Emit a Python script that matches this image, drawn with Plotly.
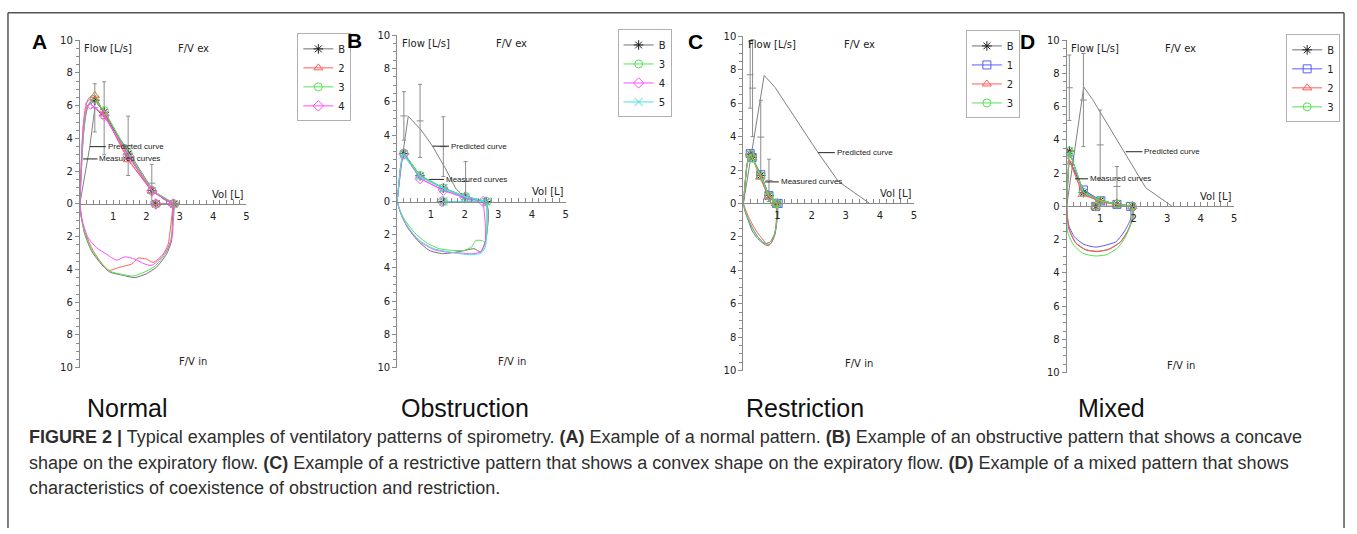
import plotly.graph_objects as go

W, H = 1357, 534

# ----------------------------- DATA -----------------------------
# Each series: key expiratory points (PEF, MEF75, MEF50, MEF25, FVC), FEV1 volume,
# rising limb (0 -> PEF) and inspiratory limb (FVC -> 0, flow magnitude).

# Panel A - Normal
A_names = ['B', '2', '3', '4']
A_key_vol = [[0.45, 0.73, 1.45, 2.16, 2.82], [0.45, 0.73, 1.45, 2.16, 2.80],
             [0.43, 0.73, 1.45, 2.16, 2.85], [0.32, 0.73, 1.45, 2.16, 2.80]]
A_key_flow = [[6.34, 5.60, 3.05, 0.82, 0.0], [6.62, 5.50, 2.70, 0.78, 0.0],
              [6.40, 5.70, 3.10, 0.84, 0.0], [6.10, 5.40, 2.95, 0.78, 0.0]]
A_fev1 = [2.28, 2.28, 2.30, 2.28]
A_rise_vol = [[0, 0.05, 0.10, 0.17, 0.25, 0.35], [0, 0.04, 0.09, 0.16, 0.25, 0.35],
              [0, 0.05, 0.10, 0.17, 0.26, 0.35], [0, 0.04, 0.09, 0.15, 0.22]]
A_rise_flow = [[0, 2.2, 4.0, 5.3, 6.0, 6.25], [0, 2.4, 4.5, 5.8, 6.4, 6.6],
               [0, 2.2, 4.1, 5.4, 6.1, 6.35], [0, 2.3, 4.3, 5.5, 6.0]]
A_insp_vol = [[2.82, 2.78, 2.75, 2.60, 2.30, 2.00, 1.65, 1.30, 0.90, 0.60, 0.35, 0.15, 0.05, 0],
              [2.80, 2.72, 2.65, 2.50, 2.20, 2.00, 1.75, 1.55, 1.20, 0.85, 0.60, 0.35, 0.15, 0.03, 0],
              [2.85, 2.80, 2.72, 2.55, 2.25, 1.95, 1.60, 1.25, 0.90, 0.60, 0.35, 0.15, 0.05, 0],
              [2.80, 2.78, 2.65, 2.40, 2.15, 1.90, 1.65, 1.35, 1.10, 0.80, 0.50, 0.25, 0.08, 0]]
A_insp_flow = [[0, 1.0, 2.27, 3.07, 3.86, 4.26, 4.50, 4.36, 4.16, 3.57, 2.87, 1.87, 0.88, 0],
               [0, 1.47, 2.47, 3.07, 3.57, 3.37, 3.31, 3.67, 3.86, 4.06, 3.47, 2.67, 1.67, 0.68, 0],
               [0, 1.1, 2.3, 3.1, 3.8, 4.15, 4.4, 4.3, 4.1, 3.5, 2.8, 1.8, 0.85, 0],
               [0, 1.9, 2.67, 3.37, 3.76, 3.63, 3.37, 3.23, 3.43, 3.07, 2.67, 2.07, 1.08, 0]]
A_pred_vol = [0, 0.15, 0.30, 0.45, 0.73, 1.10, 1.45, 1.80, 2.16, 2.50, 2.80]
A_pred_flow = [0, 1.7, 3.5, 5.86, 5.35, 4.3, 3.25, 2.1, 0.95, 0.3, 0]
A_err_vol = [0.45, 0.73, 1.45, 2.16]
A_err_mid = [5.87, 5.23, 3.55, 1.27]
A_err_half = [1.47, 2.23, 1.81, 1.15]

# Panel B - Obstruction
B_names = ['B', '3', '4', '5']
B_key_vol = [[0.20, 0.68, 1.37, 2.01, 2.64], [0.20, 0.68, 1.37, 2.03, 2.66],
             [0.20, 0.68, 1.37, 2.01, 2.55], [0.18, 0.68, 1.37, 2.03, 2.66]]
B_key_flow = [[2.88, 1.55, 0.80, 0.29, 0.0], [2.92, 1.57, 0.82, 0.30, 0.0],
              [2.85, 1.38, 0.68, 0.22, 0.0], [2.82, 1.50, 0.78, 0.28, 0.0]]
B_fev1 = [1.37, 1.38, 1.33, 1.38]
B_rise_vol = [[0, 0.05, 0.10, 0.15], [0, 0.05, 0.10, 0.15], [0, 0.05, 0.10, 0.15], [0, 0.05, 0.10, 0.14]]
B_rise_flow = [[0, 1.0, 2.0, 2.6], [0, 1.1, 2.1, 2.65], [0, 1.0, 2.0, 2.6], [0, 1.05, 2.05, 2.6]]
B_insp_vol = [[2.64, 2.70, 2.70, 2.62, 2.48, 2.28, 2.03, 1.64, 1.35, 0.95, 0.61, 0.31, 0.12, 0],
              [2.66, 2.66, 2.60, 2.52, 2.33, 2.20, 1.98, 1.64, 1.25, 0.85, 0.51, 0.22, 0.07, 0],
              [2.55, 2.62, 2.60, 2.45, 2.20, 1.90, 1.50, 1.10, 0.70, 0.40, 0.15, 0],
              [2.66, 2.66, 2.62, 2.50, 2.20, 1.90, 1.50, 1.10, 0.70, 0.40, 0.15, 0]]
B_insp_flow = [[0, 0.5, 1.18, 2.35, 3.04, 2.84, 2.94, 3.08, 3.14, 2.94, 2.35, 1.57, 0.78, 0],
               [0, 1.96, 2.45, 2.35, 2.35, 2.75, 2.94, 2.94, 2.84, 2.45, 1.86, 1.08, 0.49, 0],
               [0, 1.5, 2.6, 3.05, 3.15, 3.1, 3.05, 2.9, 2.45, 1.8, 0.95, 0],
               [0, 1.9, 2.7, 3.1, 3.2, 3.15, 3.02, 2.85, 2.4, 1.75, 0.9, 0]]
B_pred_vol = [0, 0.15, 0.33, 0.71, 1.05, 1.44, 1.74, 2.03, 2.30]
B_pred_flow = [0, 2.6, 5.13, 4.31, 3.33, 1.96, 0.78, 0.19, 0]
B_err_vol = [0.20, 0.68, 1.37, 2.03]
B_err_mid = [5.15, 4.85, 3.30, 1.20]
B_err_half = [1.46, 2.20, 1.80, 1.20]

# Panel C - Restriction
C_names = ['B', '1', '2', '3']
C_key_vol = [[0.20, 0.26, 0.51, 0.75, 1.00], [0.20, 0.26, 0.51, 0.75, 1.02],
             [0.20, 0.26, 0.49, 0.73, 0.97], [0.20, 0.26, 0.51, 0.75, 1.00]]
C_key_flow = [[2.95, 2.75, 1.68, 0.47, 0.0], [2.98, 2.75, 1.72, 0.47, 0.0],
              [2.95, 2.75, 1.58, 0.41, 0.0], [2.93, 2.72, 1.66, 0.45, 0.0]]
C_fev1 = [0.95, 0.97, 0.95, 0.95]
C_rise_vol = [[0, 0.05, 0.10, 0.15], [0, 0.05, 0.10, 0.15], [0, 0.05, 0.10, 0.15], [0, 0.05, 0.10, 0.15]]
C_rise_flow = [[0, 1.2, 2.2, 2.75], [0, 1.2, 2.25, 2.8], [0, 1.15, 2.15, 2.75], [0, 1.2, 2.2, 2.7]]
C_insp_vol = [[1.00, 0.97, 0.93, 0.81, 0.68, 0.54, 0.39, 0.26, 0.15, 0.05, 0],
              [1.02, 0.99, 0.92, 0.79, 0.66, 0.54, 0.39, 0.25, 0.13, 0.03, 0],
              [0.97, 0.97, 0.93, 0.83, 0.73, 0.59, 0.44, 0.29, 0.15, 0.05, 0],
              [1.00, 0.98, 0.91, 0.78, 0.65, 0.54, 0.39, 0.25, 0.13, 0.03, 0]]
C_insp_flow = [[0, 1.05, 1.83, 2.38, 2.51, 2.32, 2.03, 1.64, 1.05, 0.47, 0],
               [0, 1.0, 1.8, 2.3, 2.4, 2.25, 1.9, 1.4, 0.88, 0.3, 0],
               [0, 1.0, 1.73, 2.33, 2.53, 2.2, 1.83, 1.34, 0.8, 0.3, 0],
               [0, 1.05, 1.83, 2.32, 2.38, 2.26, 1.9, 1.4, 0.88, 0.3, 0]]
C_pred_vol = [0, 0.61, 0.93, 2.19, 2.78, 3.70]
C_pred_flow = [0, 7.66, 6.94, 3.04, 1.33, 0]
C_err_vol = [0.20, 0.27, 0.51, 0.75]
C_err_mid = [7.70, 6.90, 3.97, 1.38]
C_err_half = [2.00, 2.90, 2.20, 1.27]

# Panel D - Mixed
D_names = ['B', '1', '2', '3']
D_key_vol = [[0.08, 0.50, 1.00, 1.50, 1.96], [0.08, 0.50, 1.02, 1.50, 1.91],
             [0.08, 0.48, 1.00, 1.50, 1.96], [0.08, 0.50, 1.00, 1.50, 1.96]]
D_key_flow = [[3.33, 0.83, 0.34, 0.14, 0.0], [2.80, 0.99, 0.34, 0.12, 0.0],
              [2.80, 0.73, 0.30, 0.10, 0.0], [3.33, 0.85, 0.35, 0.14, 0.0]]
D_fev1 = [0.87, 0.87, 0.85, 0.87]
D_rise_vol = [[0, 0.03, 0.06], [0, 0.03, 0.06], [0, 0.03, 0.06], [0, 0.03, 0.06]]
D_rise_flow = [[0, 1.5, 2.7], [0, 1.3, 2.4], [0, 1.3, 2.4], [0, 1.5, 2.7]]
D_insp_vol = [[1.96, 1.99, 1.86, 1.61, 1.27, 0.92, 0.57, 0.28, 0.08, 0.01, 0],
              [1.91, 1.91, 1.71, 1.47, 1.17, 0.87, 0.52, 0.23, 0.05, 0],
              [1.96, 1.97, 1.84, 1.60, 1.27, 0.92, 0.57, 0.28, 0.08, 0],
              [1.96, 1.93, 1.76, 1.51, 1.17, 0.82, 0.48, 0.21, 0.03, 0]]
D_insp_flow = [[0, 0.55, 1.34, 2.13, 2.56, 2.72, 2.62, 2.23, 1.44, 0.55, 0],
               [0, 0.75, 1.54, 2.13, 2.33, 2.45, 2.29, 1.83, 1.05, 0],
               [0, 0.6, 1.4, 2.15, 2.58, 2.7, 2.6, 2.2, 1.4, 0],
               [0, 0.95, 1.83, 2.52, 2.92, 2.98, 2.82, 2.33, 1.54, 0]]
D_pred_vol = [0, 0.51, 0.77, 2.36, 3.15]
D_pred_flow = [0, 7.18, 6.45, 1.12, 0]
D_err_vol = [0.08, 0.50, 1.00, 1.50]
D_err_mid = [7.14, 6.40, 3.70, 1.20]
D_err_half = [1.97, 2.80, 2.10, 1.20]

# Axis ticks
flow_tickvals = [-10, -8, -6, -4, -2, 0, 2, 4, 6, 8, 10]
flow_ticktext = ['10', '8', '6', '4', '2', '0', '2', '4', '6', '8', '10']
vol_tickvals = [1, 2, 3, 4, 5]

panel_letters = ['A', 'B', 'C', 'D']
panel_titles = ['Normal', 'Obstruction', 'Restriction', 'Mixed']

caption_lines = [
    "<b>FIGURE 2 |</b> Typical examples of ventilatory patterns of spirometry. <b>(A)</b> Example of a normal pattern. "
    "<b>(B)</b> Example of an obstructive pattern that shows a concave",
    "shape on the expiratory flow. <b>(C)</b> Example of a restrictive pattern that shows a convex shape on the "
    "expiratory flow. <b>(D)</b> Example of a mixed pattern that shows",
    "characteristics of coexistence of obstruction and restriction.",
]

# ----------------------------- STYLE / LAYOUT -----------------------------
STYLE = {
    'B': dict(line='#707070', marker='#1e1e1e', symbol='asterisk-open'),
    '1': dict(line='#5b5bff', marker='#5b5bff', symbol='square-open'),
    '2': dict(line='#ff5b5b', marker='#ff5b5b', symbol='triangle-up-open'),
    '3': dict(line='#55e055', marker='#55e055', symbol='circle-open'),
    '4': dict(line='#ff4dff', marker='#ff4dff', symbol='diamond-open'),
    '5': dict(line='#48e0e0', marker='#48e0e0', symbol='x-thin-open'),
}

GEOM = [
    dict(x0=80, x5=247, yt=35, yb=370, leg=(298, 28), letter=(40, 36), title=128,
         pred_lead=(0.30, 3.5, 0.78), meas_lead=(0.10, 2.75, 0.53)),
    dict(x0=398, x5=567, yt=30, yb=370, leg=(619, 24), letter=(355, 35), title=466,
         pred_lead=(1.05, 3.33, 1.54), meas_lead=(0.95, 1.33, 1.39)),
    dict(x0=745, x5=916, yt=31, yb=373, leg=(968, 25), letter=(697, 36), title=807,
         pred_lead=(2.19, 3.04, 2.68), meas_lead=(0.63, 1.29, 1.04)),
    dict(x0=1069, x5=1237, yt=35, yb=375, leg=(1289, 29), letter=(1030, 36), title=1114,
         pred_lead=(1.76, 3.29, 2.26), meas_lead=(0.25, 1.66, 0.64)),
]

PANEL_DATA = [
    (A_names, A_key_vol, A_key_flow, A_fev1, A_rise_vol, A_rise_flow, A_insp_vol, A_insp_flow,
     A_pred_vol, A_pred_flow, A_err_vol, A_err_mid, A_err_half),
    (B_names, B_key_vol, B_key_flow, B_fev1, B_rise_vol, B_rise_flow, B_insp_vol, B_insp_flow,
     B_pred_vol, B_pred_flow, B_err_vol, B_err_mid, B_err_half),
    (C_names, C_key_vol, C_key_flow, C_fev1, C_rise_vol, C_rise_flow, C_insp_vol, C_insp_flow,
     C_pred_vol, C_pred_flow, C_err_vol, C_err_mid, C_err_half),
    (D_names, D_key_vol, D_key_flow, D_fev1, D_rise_vol, D_rise_flow, D_insp_vol, D_insp_flow,
     D_pred_vol, D_pred_flow, D_err_vol, D_err_mid, D_err_half),
]

AX_FONT = dict(family='DejaVu Sans', size=10, color='#222222')
SMALL_FONT = dict(family='Liberation Sans, Arial', size=8, color='#222222')
AXIS_COLOR = '#8a8a8a'

fig = go.Figure()
layout = dict(width=W, height=H, margin=dict(l=0, r=0, t=0, b=0),
              paper_bgcolor='white', plot_bgcolor='rgba(0,0,0,0)', showlegend=True)
annotations = []
shapes = []

for i, (g, pdata) in enumerate(zip(GEOM, PANEL_DATA)):
    (names, key_vol, key_flow, fev1, rise_vol, rise_flow, insp_vol, insp_flow,
     pred_vol, pred_flow, err_vol, err_mid, err_half) = pdata
    n = i + 1
    xa = 'x' if n == 1 else f'x{n}'
    ya = 'y' if n == 1 else f'y{n}'
    xk = 'xaxis' if n == 1 else f'xaxis{n}'
    yk = 'yaxis' if n == 1 else f'yaxis{n}'
    lg = 'legend' if n == 1 else f'legend{n}'

    xdom = [g['x0'] / W, g['x5'] / W]
    ydom = [1 - g['yb'] / H, 1 - g['yt'] / H]

    layout[xk] = dict(domain=xdom, range=[0, 5], anchor='free', position=(ydom[0] + ydom[1]) / 2,
                      showline=True, linecolor=AXIS_COLOR, linewidth=1, showgrid=False, zeroline=False,
                      tickmode='array', tickvals=vol_tickvals, ticks='inside', ticklen=4,
                      tickcolor=AXIS_COLOR, tickfont=AX_FONT, ticklabelstandoff=3,
                      minor=dict(dtick=0.2, ticks='inside', ticklen=4, tickcolor=AXIS_COLOR, showgrid=False),
                      fixedrange=True)
    layout[yk] = dict(domain=ydom, range=[-10, 10], anchor=xa,
                      showline=True, linecolor=AXIS_COLOR, linewidth=1, showgrid=False, zeroline=False,
                      tickmode='array', tickvals=flow_tickvals, ticktext=flow_ticktext,
                      ticks='outside', ticklen=4, tickcolor=AXIS_COLOR, tickfont=AX_FONT,
                      minor=dict(dtick=0.5, ticks='outside', ticklen=3, tickcolor=AXIS_COLOR, showgrid=False),
                      fixedrange=True)

    fig.add_trace(go.Scatter(x=pred_vol, y=pred_flow, mode='lines', xaxis=xa, yaxis=ya,
                             line=dict(color='#808080', width=1), showlegend=False, hoverinfo='skip'))
    fig.add_trace(go.Scatter(x=err_vol, y=err_mid, mode='markers', xaxis=xa, yaxis=ya,
                             marker=dict(symbol='line-ew-open', size=5, color='#8c8c8c',
                                         line=dict(width=1, color='#8c8c8c')),
                             error_y=dict(type='data', array=err_half, color='#8c8c8c', thickness=1, width=2),
                             showlegend=False, hoverinfo='skip'))

    for j, name in enumerate(names):
        st = STYLE[name]
        grp = f'{n}-{name}'
        loop_x = list(insp_vol[j]) + list(rise_vol[j])
        loop_y = [-f for f in insp_flow[j]] + list(rise_flow[j])
        fig.add_trace(go.Scatter(x=loop_x, y=loop_y, mode='lines', xaxis=xa, yaxis=ya,
                                 line=dict(color=st['line'], width=1, shape='spline', smoothing=0.6),
                                 legendgroup=grp, showlegend=False, hoverinfo='skip'))
        fig.add_trace(go.Scatter(x=[rise_vol[j][-1]] + key_vol[j], y=[rise_flow[j][-1]] + key_flow[j],
                                 mode='lines', xaxis=xa, yaxis=ya,
                                 line=dict(color=st['line'], width=1),
                                 legendgroup=grp, showlegend=False, hoverinfo='skip'))
        fig.add_trace(go.Scatter(x=key_vol[j] + [fev1[j]], y=key_flow[j] + [0.0],
                                 mode='lines+markers', xaxis=xa, yaxis=ya, name=name,
                                 line=dict(color=st['line'], width=1),
                                 marker=dict(symbol=st['symbol'], size=8, color=st['marker'],
                                             line=dict(width=1, color=st['marker'])),
                                 legendgroup=grp, legend=lg, showlegend=True, hoverinfo='skip'))

    layout[lg] = dict(x=g['leg'][0] / W, y=1 - g['leg'][1] / H, xanchor='left', yanchor='top',
                      bgcolor='white', bordercolor='#b0b0b0', borderwidth=1,
                      font=dict(family='DejaVu Sans', size=10, color='#222222'),
                      tracegroupgap=0, itemwidth=30)

    annotations += [
        dict(x=0.08, y=9.5, xref=xa, yref=ya, text='Flow [L/s]', showarrow=False, xanchor='left',
             yanchor='middle', font=AX_FONT),
        dict(x=2.88, y=9.5, xref=xa, yref=ya, text='F/V ex', showarrow=False, xanchor='left',
             yanchor='middle', font=AX_FONT),
        dict(x=2.92, y=-9.6, xref=xa, yref=ya, text='F/V in', showarrow=False, xanchor='left',
             yanchor='middle', font=AX_FONT),
        dict(x=5.0, y=0.6, xref=xa, yref=ya, text='Vol [L]', showarrow=False, xanchor='right',
             yanchor='middle', font=AX_FONT),
        dict(x=g['pred_lead'][2], y=g['pred_lead'][1], xref=xa, yref=ya, text='Predicted curve',
             showarrow=False, xanchor='left', yanchor='middle', font=SMALL_FONT),
        dict(x=g['meas_lead'][2], y=g['meas_lead'][1], xref=xa, yref=ya, text='Measured curves',
             showarrow=False, xanchor='left', yanchor='middle', font=SMALL_FONT),
        dict(x=g['letter'][0] / W, y=1 - g['letter'][1] / H, xref='paper', yref='paper',
             text=f'<b>{panel_letters[i]}</b>', showarrow=False, xanchor='center', yanchor='middle',
             font=dict(family='Liberation Sans, Arial', size=21, color='#000000')),
        dict(x=g['title'] / W, y=1 - 411 / H, xref='paper', yref='paper', text=panel_titles[i],
             showarrow=False, xanchor='center', yanchor='middle',
             font=dict(family='Liberation Sans, Arial', size=25, color='#111111')),
    ]
    for (sx, sy, ex) in (g['pred_lead'], g['meas_lead']):
        shapes.append(dict(type='line', xref=xa, yref=ya, x0=sx, y0=sy, x1=ex, y1=sy,
                           line=dict(color='#202020', width=1)))

for k, line in enumerate(caption_lines):
    annotations.append(dict(x=27 / W, y=1 - (441 + 26 * k) / H, xref='paper', yref='paper', text=line,
                            showarrow=False, xanchor='left', yanchor='middle',
                            font=dict(family='Liberation Sans, Arial', size=18, color='#2e2e2e')))

frame = dict(color='#555555', width=1.5)
shapes += [
    dict(type='line', xref='paper', yref='paper', x0=8 / W, x1=1347 / W, y0=1 - 7 / H, y1=1 - 7 / H, line=frame),
    dict(type='line', xref='paper', yref='paper', x0=8 / W, x1=8 / W, y0=1 - 7 / H, y1=0, line=frame),
    dict(type='line', xref='paper', yref='paper', x0=1347 / W, x1=1347 / W, y0=1 - 7 / H, y1=0, line=frame),
]

layout['annotations'] = annotations
layout['shapes'] = shapes
fig.update_layout(**layout)

post = ("document.documentElement.style.margin='0';document.body.style.margin='0';"
        "document.body.style.overflow='hidden';"
        "var d=document.getElementById('{plot_id}');d.style.position='fixed';"
        "d.style.left='0px';d.style.top='0px';")
fig.write_html('out.html', config={'displayModeBar': False}, post_script=post)
